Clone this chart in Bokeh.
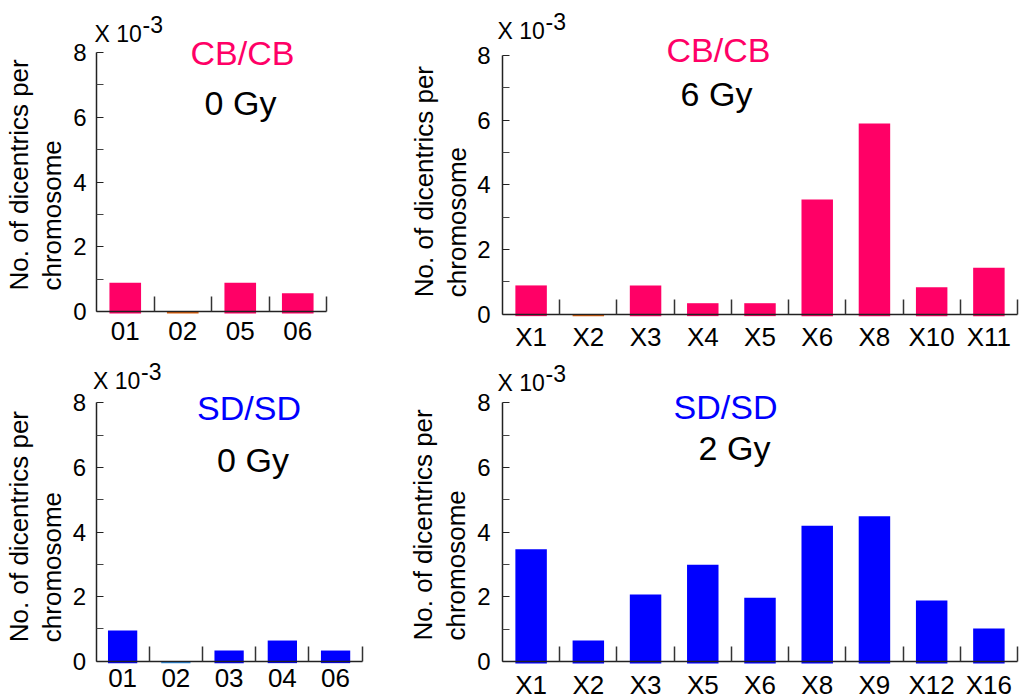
import numpy as np
from bokeh.plotting import figure
from bokeh.models import Range1d, FixedTicker, Label, ColumnDataSource
from bokeh.layouts import column, row
from bokeh.embed import file_html
from bokeh.resources import INLINE

# ---------------- data ----------------
cb0_cats = ["01", "02", "05", "06"]
cb0_vals = [0.89, 0.0, 0.89, 0.56]

cb6_cats = ["X1", "X2", "X3", "X4", "X5", "X6", "X8", "X10", "X11"]
cb6_vals = [0.89, 0.0, 0.89, 0.34, 0.34, 3.55, 5.90, 0.83, 1.44]

sd0_cats = ["01", "02", "03", "04", "06"]
sd0_vals = [0.95, 0.0, 0.33, 0.64, 0.33]

sd2_cats = ["X1", "X2", "X3", "X5", "X6", "X8", "X9", "X12", "X16"]
sd2_vals = [3.47, 0.65, 2.07, 2.99, 1.97, 4.20, 4.49, 1.89, 1.02]

y_ticks = [0, 2, 4, 6, 8]
y_minor = [1, 3, 5, 7]

FONT = "Liberation Sans"
PINK = "#FF0066"
BLUE = "#0000FF"
PINK_ZERO = "#E0600A"
BLUE_ZERO = "#2E8FE6"
Y0 = -0.06
YMAX = 8


def panel(cats, vals, color, zero_color, group, dose, canvas, frame, styles):
    """canvas=(W,H); frame=(x0px, xNpx, y0px, y8px) in canvas pixels."""
    n = len(cats)
    W, H = canvas
    x0px, xnpx, y0px, y8px = frame
    ppx = (xnpx - x0px) / n
    ppy = (y0px - y8px) / YMAX
    xr = Range1d(-x0px / ppx, (W - x0px) / ppx)
    yr = Range1d(-(H - y0px) / ppy, YMAX + y8px / ppy)

    p = figure(width=W, height=H, min_border=0,
               min_border_left=0, min_border_right=0,
               min_border_top=0, min_border_bottom=0,
               x_range=xr, y_range=yr,
               output_backend="svg", toolbar_location=None)
    p.title.visible = False
    p.outline_line_color = None
    p.xgrid.visible = False
    p.ygrid.visible = False
    p.background_fill_color = "white"
    p.border_fill_color = "white"

    centers = list(np.arange(n) + 0.5)
    colors = [zero_color if v == 0 else color for v in vals]
    src = ColumnDataSource(dict(x=centers, top=vals, color=colors))
    p.vbar(x="x", top="top", bottom=Y0, width=0.55, fill_color="color",
           line_color=None, source=src)

    (x_standoff, y_standoff, gx, gy, dx, dy, sx, sy, l1x, l2x, ly) = styles

    # x axis: category names at centres, separators as minor ticks at boundaries
    xa = p.xaxis[0]
    xa.fixed_location = 0
    xa.bounds = (0, n)
    xa.ticker = FixedTicker(ticks=centers, minor_ticks=list(range(1, n + 1)))
    xa.major_label_overrides = {c: s for c, s in zip(centers, cats)}
    xa.major_tick_in = 0
    xa.major_tick_out = 0
    xa.minor_tick_in = 15
    xa.minor_tick_out = 0
    xa.minor_tick_line_color = "#333333"
    xa.minor_tick_line_width = 1.5
    xa.axis_line_color = "#222222"
    xa.axis_line_width = 1.5
    xa.major_label_text_font = FONT
    xa.major_label_text_font_size = "26px"
    xa.major_label_text_color = "black"
    xa.major_label_standoff = x_standoff

    ya = p.yaxis[0]
    ya.fixed_location = 0
    ya.bounds = (0, YMAX)
    ya.ticker = FixedTicker(ticks=y_ticks, minor_ticks=y_minor)
    ya.major_tick_in = 7
    ya.major_tick_out = 0
    ya.minor_tick_in = 7
    ya.minor_tick_out = 0
    ya.major_tick_line_color = "#222222"
    ya.minor_tick_line_color = "#444444"
    ya.axis_line_color = "#222222"
    ya.axis_line_width = 1.5
    ya.major_label_text_font = FONT
    ya.major_label_text_font_size = "24px"
    ya.major_label_text_color = "black"
    ya.major_label_standoff = y_standoff

    # group and dose titles
    p.add_layout(Label(x=0, y=YMAX, x_offset=gx, y_offset=gy, text=group,
                       text_font=FONT, text_font_size="34px", text_color=color,
                       text_align="center", text_baseline="alphabetic"))
    p.add_layout(Label(x=0, y=YMAX, x_offset=dx, y_offset=dy, text=dose,
                       text_font=FONT, text_font_size="34px", text_color="black",
                       text_align="center", text_baseline="alphabetic"))
    # scale factor "X 10^-3"
    p.add_layout(Label(x=0, y=YMAX, x_offset=sx, y_offset=sy, text="X 10",
                       text_font=FONT, text_font_size="23px", text_color="black",
                       text_align="left", text_baseline="alphabetic"))
    p.add_layout(Label(x=0, y=YMAX, x_offset=sx + 48, y_offset=sy + 9, text="-3",
                       text_font=FONT, text_font_size="23px", text_color="black",
                       text_align="left", text_baseline="alphabetic"))
    # y axis title, two lines rotated
    p.add_layout(Label(x=0, y=0, x_offset=l1x, y_offset=ly,
                       text="No. of dicentrics per", angle=np.pi / 2,
                       text_font=FONT, text_font_size="26px", text_color="black",
                       text_align="left", text_baseline="alphabetic"))
    p.add_layout(Label(x=0, y=0, x_offset=l2x, y_offset=ly,
                       text="chromosome", angle=np.pi / 2,
                       text_font=FONT, text_font_size="26px", text_color="black",
                       text_align="left", text_baseline="alphabetic"))
    return p


#                 x_so y_so  gx   gy   dx   dy  sx  sy  l1x  l2x  ly
p1 = panel(cb0_cats, cb0_vals, PINK, PINK_ZERO, "CB/CB", "0 Gy",
           (400, 352), (96, 326, 311, 52),
           (10, 10, 146, 0, 144, -50, -2, 19, -78, -45, 21))
p2 = panel(cb6_cats, cb6_vals, PINK, PINK_ZERO, "CB/CB", "6 Gy",
           (619, 352), (102, 617, 313.7, 55),
           (8, 12, 216, 6, 214, -38, -5, 25, -79, -46, 17))
p3 = panel(sd0_cats, sd0_vals, BLUE, BLUE_ZERO, "SD/SD", "0 Gy",
           (400, 342), (95.5, 361.7, 308.7, 50.3),
           (8, 10, 153, -5, 157, -57, -3, 22, -77, -44, 19))
p4 = panel(sd2_cats, sd2_vals, BLUE, BLUE_ZERO, "SD/SD", "2 Gy",
           (619, 342), (102, 617, 309, 50.3),
           (8, 12, 223, -4, 232, -45, -5, 20, -80, -47, 21))

layout = column(row(p1, p2), row(p3, p4))
open("out.html", "w").write(file_html(layout, INLINE))
